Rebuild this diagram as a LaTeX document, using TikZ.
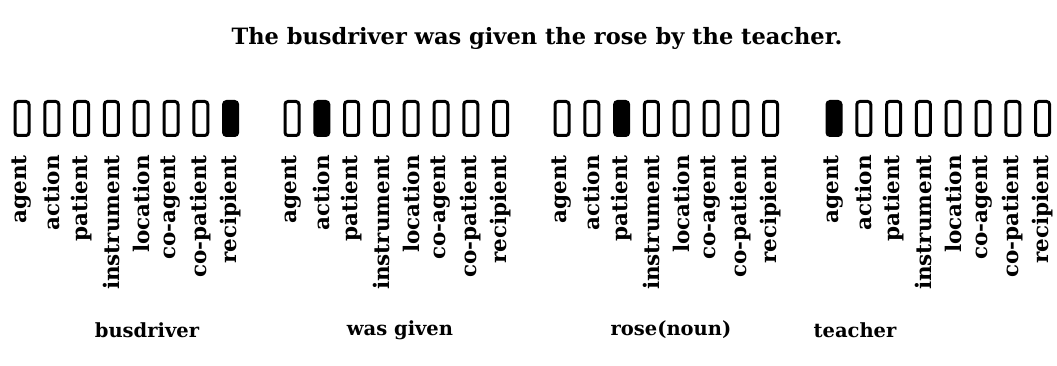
\documentclass[tikz,border=0pt]{standalone}
\usepackage{fontspec}
\setmainfont{DejaVu Serif}

\begin{document}
\begin{tikzpicture}[
  x=1pt, y=-1pt,
  cell/.style={draw, line width=3pt, rounded corners=3pt,
               minimum width=14pt, minimum height=34pt, inner sep=0pt},
  role/.style={rotate=90, anchor=east, inner sep=0pt,
               font=\fontsize{21.5}{21.5}\selectfont\bfseries},
  word/.style={inner sep=0pt, font=\fontsize{19.5}{19.5}\selectfont\bfseries}
]
\useasboundingbox (0,0) rectangle (1057,366);

\node[inner sep=0pt, font=\fontsize{22.5}{22.5}\selectfont\bfseries] (title) at (537,38)
  {The busdriver was given the rose by the teacher.};

% one group of case-role units per word
\foreach \g/\gx/\hit in {1/14/8, 2/284/2, 3/554/3, 4/826/1}{
  \foreach \r [count=\i] in {agent,action,patient,instrument,location,co-agent,co-patient,recipient}{
    \pgfmathsetmacro\cx{\gx+8+(\i-1)*29.8}
    \pgfmathtruncatemacro\shade{ifthenelse(\i==\hit,100,0)}
    \node[cell, fill=black!\shade] (b\g\i) at (\cx,118.5) {};
    \node[role] (r\g\i) at (\cx,155) {\r};
  }
}

\node[word] (w1) at (147,330) {busdriver};
\node[word] (w2) at (400,330) {was given};
\node[word] (w3) at (671,330) {rose(noun)};
\node[word] (w4) at (855,330) {teacher};
\end{tikzpicture}
\end{document}
